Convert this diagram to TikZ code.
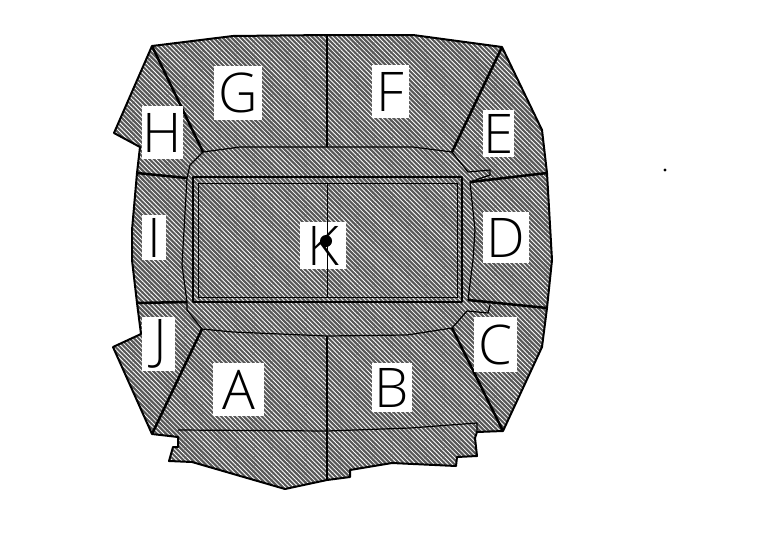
\documentclass[tikz,border=0pt]{standalone}
\usepackage{fontspec}
\setmainfont{Open Sans Light}
\usetikzlibrary{patterns.meta}
\tikzset{
  standfill/.style={fill=black!66},
  standhatch/.style={pattern={Lines[angle=-45,distance=2.4pt,line width=0.6pt]},pattern color=white},
  standline/.style={line width=1.9pt, line join=round, black},
  outline/.style={line width=1.5pt, line join=round, black},
  thinline/.style={line width=0.9pt, line join=round, black},
  hairline/.style={line width=0.5pt, black},
  labelbox/.style={fill=white, inner sep=0pt, font=\fontsize{41}{41}\selectfont},
  speck/.style={circle, fill=black, inner sep=0pt},
}
\begin{document}
\begin{tikzpicture}[x=0.75pt, y=-0.75pt]
  \useasboundingbox (0,0) rectangle (767,546);

  % Corners of the stands
  \coordinate (topleft) at (152,46);
  \coordinate (topright) at (502,47);
  \coordinate (topmid) at (327,35);
  \coordinate (ringG) at (203,152);
  \coordinate (ringF) at (452,152);
  \coordinate (ringA) at (202,329);
  \coordinate (ringB) at (452,328);
  \coordinate (ringtop) at (327,147);
  \coordinate (ringbot) at (327,336);
  \coordinate (lowleft) at (152,434);
  \coordinate (lowright) at (503,431);
  \coordinate (lowmid) at (327,431);
  \coordinate (botmid) at (327,480);
  \coordinate (sideHI) at (137,173);
  \coordinate (sideIJ) at (137,303);
  \coordinate (sideED) at (547,173);
  \coordinate (sideDC) at (547,308);
  \coordinate (innerHI) at (187,178);
  \coordinate (innerIJ) at (187,302);
  \coordinate (innerED) at (470,182);
  \coordinate (innerDC) at (468,300);

  % Outline
  \def\standoutline{(topleft) -- (233,36) -- (topmid) -- (413,35) -- (topright)
    -- (542,130) -- (sideED) -- (552,260) -- (sideDC) -- (542,347) -- (523,388)
    -- (lowright) -- (477,432) -- (475,438) -- (477,456) -- (457,457) -- (456,466)
    -- (392,463) -- (350,470) -- (350,477) -- (botmid) -- (285,489) -- (192,462)
    -- (169,461) -- (173,447) -- (178,447) -- (178,437) -- (lowleft) -- (113,347)
    -- (141,334) -- (sideIJ) -- (132,260) -- (132,230) -- (sideHI) -- (140,147)
    -- (114,133) -- cycle}
  \fill[standfill] \standoutline;
  \fill[standhatch] \standoutline;
  \draw[outline] \standoutline;

  % Ring round the field
  \draw[thinline] (ringG) -- (240,147) -- (ringtop) -- (413,147) -- (ringF);
  \draw[thinline] (ringA) -- (233,332) -- (ringbot) -- (407,335) -- (ringB);
  \draw[thinline] (ringG) -- (190,165) -- (innerHI) -- (182,265) -- (innerIJ) -- (187,310) -- (ringA);
  \draw[thinline] (ringF) -- (468,172) -- (490,170) -- (490,175) -- (innerED);
  \draw[thinline] (innerED) -- (475,230) -- (473,260) -- (innerDC);
  \draw[thinline] (ringB) -- (467,311) -- (488,313) -- (490,305);

  % Dividers
  \draw[standline] (topleft) -- (ringG);
  \draw[standline] (topright) -- (ringF);
  \draw[standline] (ringA) -- (lowleft);
  \draw[standline] (ringB) -- (lowright);
  \draw[standline] (topmid) -- (ringtop);
  \draw[standline] (ringbot) -- (botmid);
  \draw[standline] (sideHI) -- (innerHI);
  \draw[standline] (sideIJ) -- (innerIJ);
  \draw[standline] (sideED) -- (innerED);
  \draw[standline] (sideDC) -- (innerDC);
  \draw[thinline] (178,430) -- (lowmid) -- (410,428) -- (477,423) -- (477,432);

  % Field
  \draw[standline] (193,177) rectangle (462,302);
  \draw[hairline] (198,183) rectangle (457,297);

  % Labels
  \node[labelbox, minimum width=36pt, minimum height=40pt] (G) at (238,93) {G};
  \node[labelbox, minimum width=28pt, minimum height=40pt] (F) at (390.5,91.5) {F};
  \node[labelbox, minimum width=23pt, minimum height=35pt] (E) at (498.5,133.5) {E};
  \node[labelbox, minimum width=31pt, minimum height=40pt] (H) at (162.5,132.5) {H};
  \node[labelbox, minimum width=18pt, minimum height=34pt] (I) at (154,237.5) {I};
  \node[labelbox, minimum width=34pt, minimum height=38pt] (D) at (506,237.5) {D};
  \node[labelbox, minimum width=34pt, minimum height=35pt] (K) at (323,245.5) {K};
  \node[labelbox, minimum width=25pt, minimum height=41pt] (J) at (158.5,344) {\raisebox{5pt}{\hspace{2pt}J}};
  \node[labelbox, minimum width=38pt, minimum height=40pt] (A) at (238.5,389.5) {A};
  \node[labelbox, minimum width=30pt, minimum height=37pt] (B) at (392,387.5) {B};
  \node[labelbox, minimum width=32pt, minimum height=41pt] (C) at (495.5,344.5) {C};

  % Centre mark
  \draw[hairline] (327,183) -- (327,297);
  \node[speck, minimum size=9pt] (centre) at (326,241) {};

  % Speck
  \node[speck, minimum size=2.5pt] (dot) at (665,170) {};
\end{tikzpicture}
\end{document}
